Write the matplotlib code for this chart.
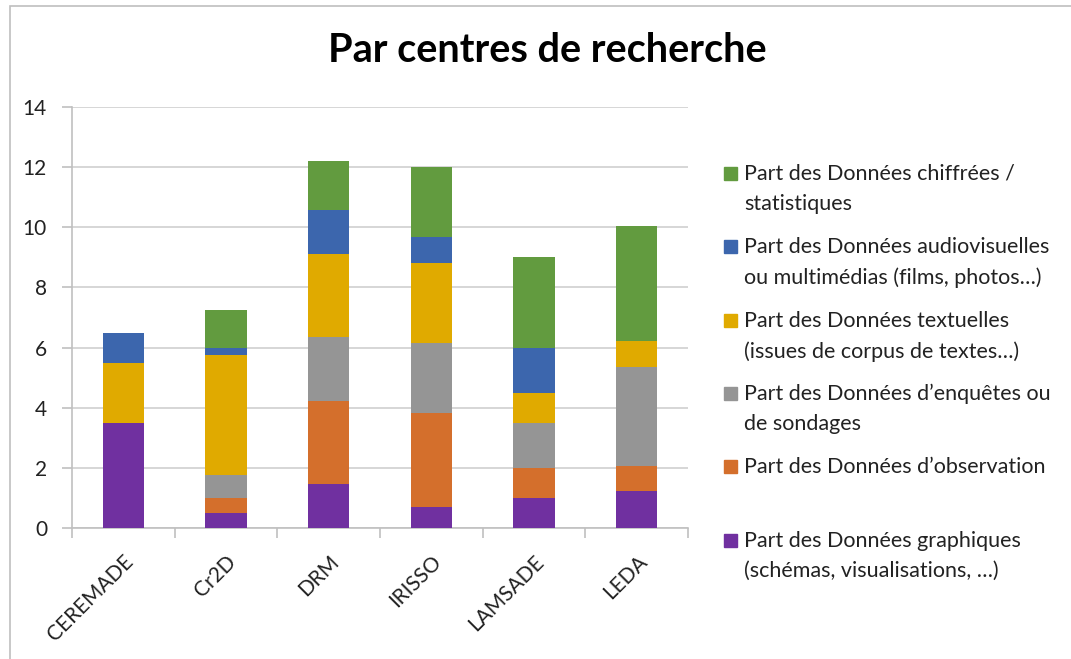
import matplotlib
matplotlib.use("Agg")
import matplotlib.pyplot as plt
from matplotlib.patches import Rectangle
import numpy as np

plt.rcParams['font.family'] = ['Lato', 'DejaVu Sans']

categories = ["CEREMADE", "Cr2D", "DRM", "IRISSO", "LAMSADE", "LEDA"]
graphiques = [3.5, 0.5, 1.46, 0.69, 1.0, 1.22]
observation = [0.0, 0.5, 2.75, 3.13, 1.0, 0.85]
enquetes = [0.0, 0.75, 2.13, 2.32, 1.5, 3.29]
textuelles = [2.0, 4.0, 2.76, 2.68, 1.0, 0.87]
audiovisuelles = [1.0, 0.25, 1.47, 0.86, 1.5, 0.0]
chiffrees = [0.0, 1.25, 1.63, 2.32, 3.0, 3.82]

series = [
    (graphiques, "#7030A0", "Part des Données graphiques\n(schémas, visualisations, …)"),
    (observation, "#D46F2C", "Part des Données d’observation\n "),
    (enquetes, "#959595", "Part des Données d’enquêtes ou\nde sondages"),
    (textuelles, "#E0AA00", "Part des Données textuelles\n(issues de corpus de textes…)"),
    (audiovisuelles, "#3C66AD", "Part des Données audiovisuelles\nou multimédias (films, photos…)"),
    (chiffrees, "#629B3F", "Part des Données chiffrées /\nstatistiques"),
]

W, H = 1071, 659
fig = plt.figure(figsize=(W / 100, H / 100), dpi=100)
ax = fig.add_axes([72 / W, 1 - 528 / H, (688 - 72) / W, (528 - 107) / H])

x = np.arange(len(categories))
bottom = np.zeros(len(categories))
for vals, col, lab in series:
    v = np.array(vals)
    ax.bar(x, v, width=0.4, bottom=bottom, color=col, zorder=3)
    bottom += v

ax.set_xlim(-0.5, len(categories) - 0.5)
ax.set_ylim(0, 14)
ax.set_yticks(np.arange(0, 15, 2))
ax.yaxis.grid(True, color="#D0D0D0", linewidth=1.2, zorder=0)
ax.set_axisbelow(True)
for s in ["top", "right"]:
    ax.spines[s].set_visible(False)
for s in ["left", "bottom"]:
    ax.spines[s].set_color("#C0C0C0")
    ax.spines[s].set_linewidth(1.2)
ax.tick_params(axis="y", length=7, color="#C0C0C0", width=1.2, labelsize=15, pad=11, labelcolor="#222222")
ax.set_xticks(x)
ax.set_xticklabels(categories, rotation=45, ha="right", va="top", rotation_mode="anchor",
                   fontsize=15, color="#222222")
ax.tick_params(axis="x", length=0, pad=17)
ax.set_xticks(np.arange(-0.5, len(categories)), minor=True)
ax.tick_params(axis="x", which="minor", length=7, color="#C0C0C0", width=1.2)

fig.text(547 / W, 1 - 50 / H, "Par centres de recherche", ha="center", va="center",
         fontsize=28.5, fontweight="bold", color="black")

# legend (manual, top-aligned entries)
entry_tops = [167, 240, 314, 387, 460, 534]
for (vals, col, lab), ytop in zip(series[::-1], entry_tops):
    fig.patches.append(Rectangle((724 / W, 1 - (ytop + 12.5) / H), 12.5 / W, 12.5 / H,
                                 transform=fig.transFigure, color=col, figure=fig))
    fig.text(744 / W, 1 - (ytop - 3) / H, lab, ha="left", va="top", fontsize=15.5,
             color="#222222", linespacing=1.62)

# chart border
fig.patches.append(Rectangle((10 / W, -0.1), 1.2, 1 - 6 / H + 0.1, transform=fig.transFigure,
                             fill=False, edgecolor="#BFBFBF", linewidth=1.2, figure=fig))

fig.savefig("out.png", dpi=100)
